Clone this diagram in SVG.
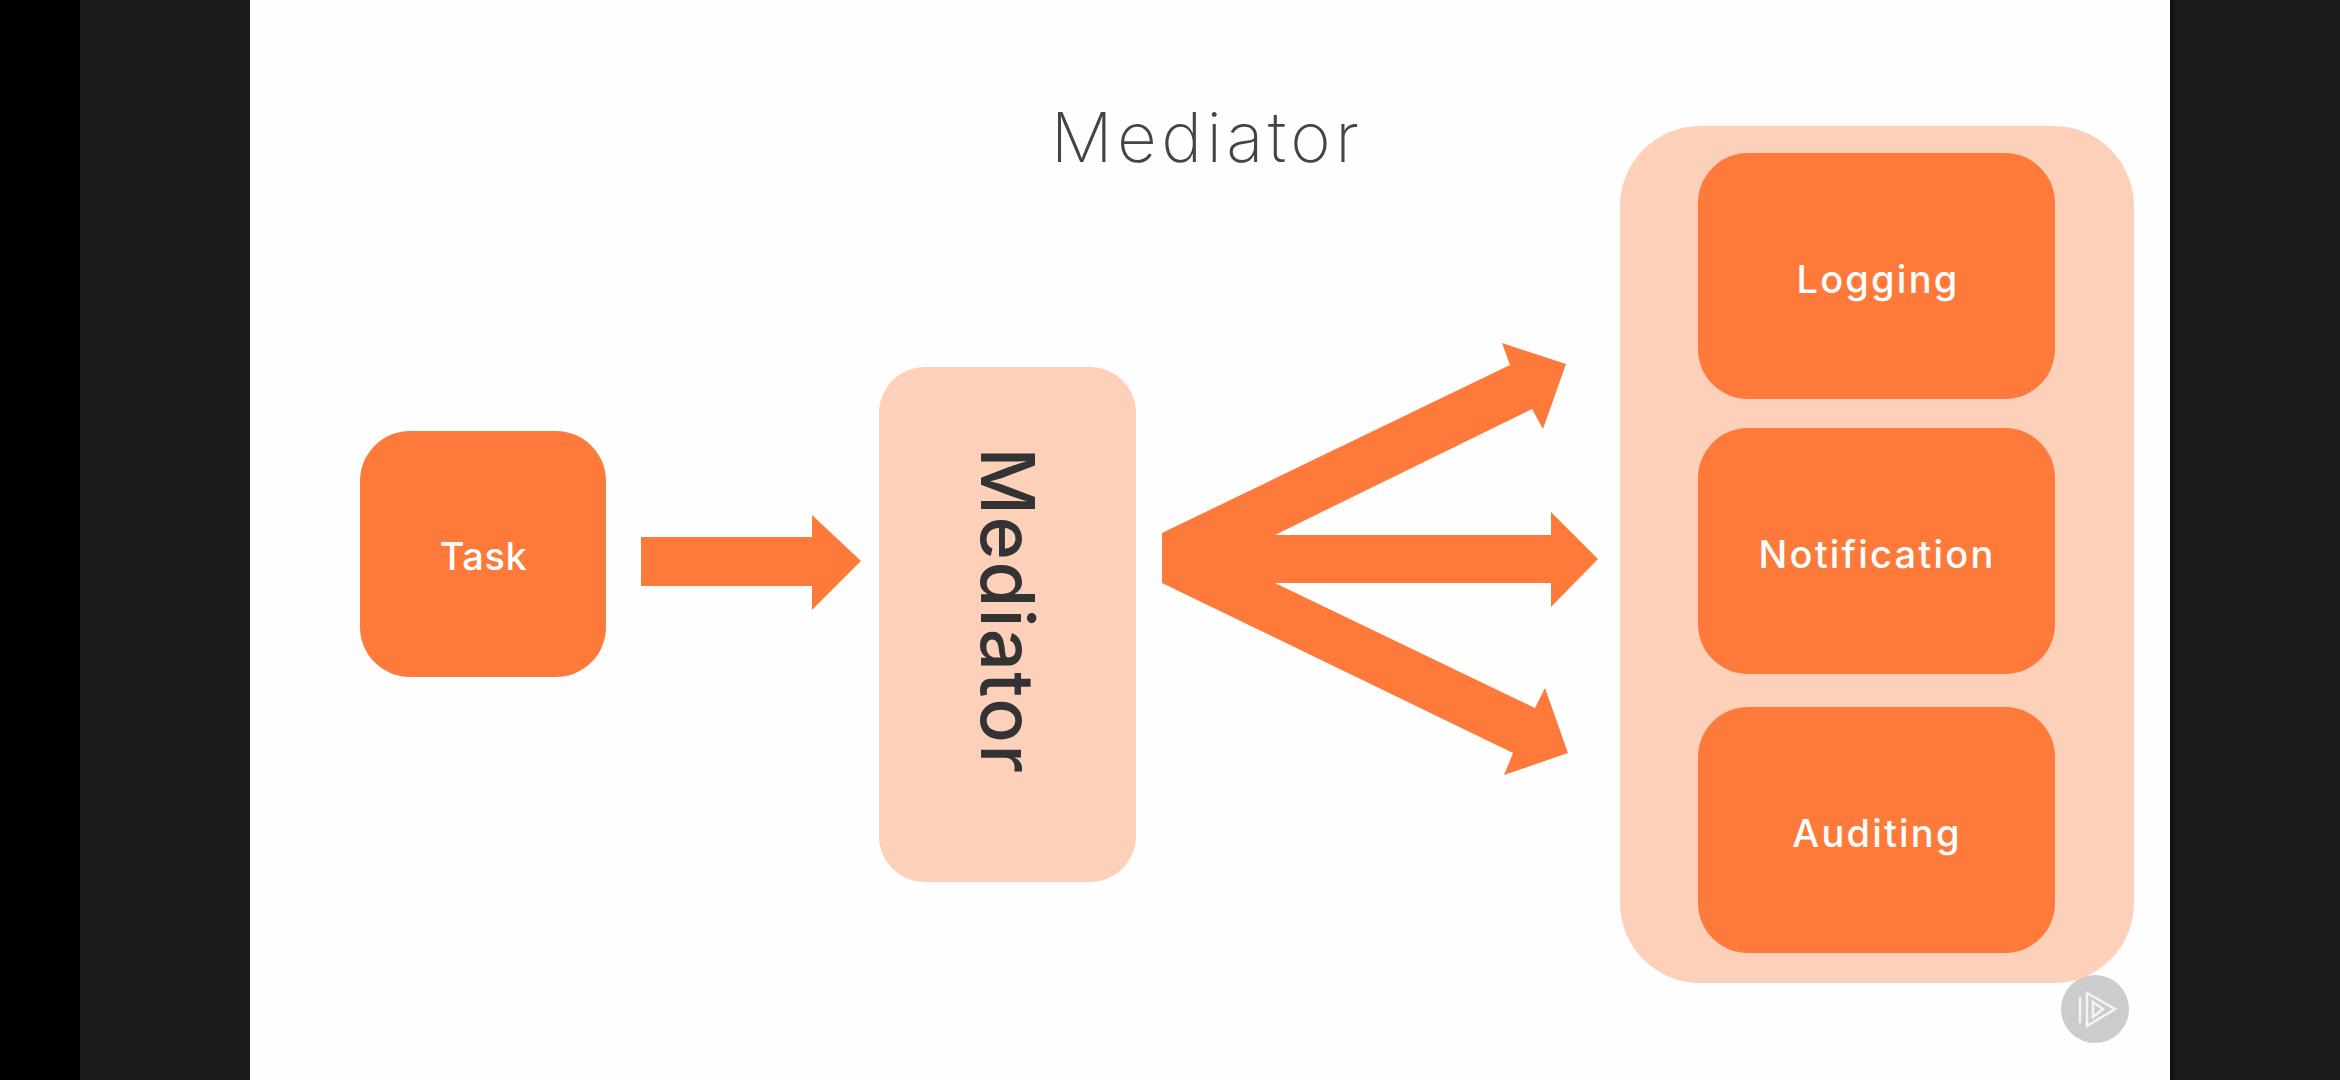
<svg xmlns="http://www.w3.org/2000/svg" width="2340" height="1080" viewBox="0 0 2340 1080">
<style>
.t{font-family:"Inter","Liberation Sans",sans-serif}
.o{fill:#fe7a3a}
.p{fill:#fdd0ba}
.w{fill:#fff;font-size:38px;font-weight:500;text-anchor:middle;letter-spacing:2.2px}
</style>
<rect width="2340" height="1080" fill="#1a1a1a"/>
<rect width="80" height="1080" fill="#000"/>
<rect x="2170" width="4" height="1080" fill="#121212"/>
<rect x="250" width="1920" height="1080" fill="#fefefe"/>
<text class="t" x="1207" y="162" font-size="69" font-weight="250" letter-spacing="4.400" fill="#444" text-anchor="middle">Mediator</text>
<g id="connectors">
<path class="o" d="M641 537H812V515L861 561L812 610V586H641Z"/>
<path class="o" d="M1162 533L1510 365L1502 343L1566 364L1543 429L1532 409L1275 535H1551V512L1598 559L1551 607V583H1275L1535 708L1545 688L1568 753L1504 775L1513 753L1162 583Z"/>
</g>
<g id="task"><rect class="o" x="360" y="431" width="246" height="246" rx="50"/><text class="t w" x="483.500" y="570" style="letter-spacing:.6px">Task</text></g>
<g id="mediator"><rect class="p" x="879" y="367" width="257" height="515" rx="46"/><text class="t" transform="translate(981 611) rotate(90)" font-size="74" font-weight="500" letter-spacing="1.500" fill="#333" text-anchor="middle">Mediator</text></g>
<g id="group"><rect class="p" x="1620" y="126" width="514" height="857" rx="80"/></g>
<g id="logging"><rect class="o" x="1698" y="153" width="357" height="246" rx="50"/><text class="t w" x="1878" y="293">Logging</text></g>
<g id="notification"><rect class="o" x="1698" y="428" width="357" height="246" rx="50"/><text class="t w" x="1877" y="568">Notification</text></g>
<g id="auditing"><rect class="o" x="1698" y="707" width="357" height="246" rx="50"/><text class="t w" x="1877" y="847">Auditing</text></g>
<g id="logo"><circle cx="2095" cy="1009" r="34" fill="#ccc"/><path d="M2087 993L2115 1009L2087 1026ZM2080 997V1023M2093 1002L2103 1009L2093 1017Z" fill="none" stroke="#f4f4f4" stroke-width="2.500"/></g>
</svg>
